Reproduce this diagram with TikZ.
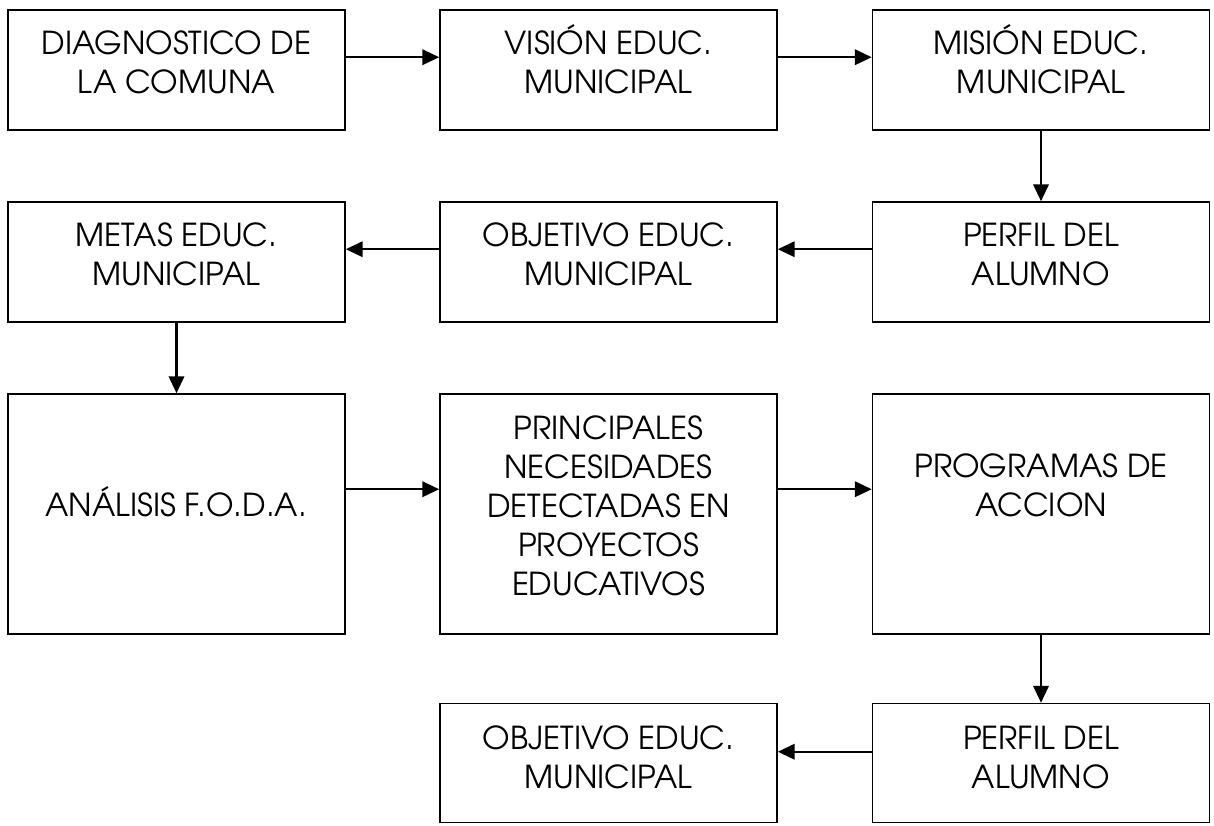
\documentclass[tikz,border=0pt]{standalone}
\usepackage{fontspec}
\setmainfont{texgyreadventor}[Extension=.otf,UprightFont=*-regular,BoldFont=*-bold]
\usetikzlibrary{arrows.meta}
\tikzset{
	caja/.style={draw,line width=1.1pt,minimum width=8.425cm,minimum height=3cm,align=center,
		font=\fontsize{22.5}{27.7}\selectfont,text height=1.55cm,text depth=0.375cm},
	flecha/.style={line width=1.6pt,-{Triangle[length=12pt,width=11pt]}}
}
\begin{document}
\begin{tikzpicture}[x=0.025cm,y=-0.025cm]
	\useasboundingbox (0,0) rectangle (1214,826);
	%Fila 1
	\node[caja,text depth=0.4cm] (diag) at (176.5,70) {DIAGNOSTICO DE\\LA COMUNA};
	\node[caja,text depth=0.4cm] (vision) at (608.5,70) {VISIÓN EDUC.\\MUNICIPAL};
	\node[caja,text depth=0.4cm] (mision) at (1041,70) {MISIÓN EDUC.\\MUNICIPAL};
	%Fila 2
	\node[caja] (metas) at (176.5,262) {METAS EDUC.\\MUNICIPAL};
	\node[caja] (objetivo) at (608.5,262) {OBJETIVO EDUC.\\MUNICIPAL};
	\node[caja] (perfil) at (1041,262) {PERFIL DEL\\ALUMNO};
	%Fila 3
	\node[caja,minimum height=6cm,text height=0.575cm,text depth=0.45cm] (foda) at (176.5,514) {ANÁLISIS F.O.D.A.};
	\node[caja,minimum height=6cm,text height=4.475cm,text depth=0.425cm] (necesidades) at (608.5,514) {PRINCIPALES\\NECESIDADES\\DETECTADAS EN\\PROYECTOS\\EDUCATIVOS};
	\node[caja,minimum height=6cm,text depth=1.45cm] (programas) at (1041,514) {PROGRAMAS DE\\ACCION};
	%Fila 4
	\node[caja,minimum height=2.975cm,text depth=0.275cm] (objetivob) at (608.5,763) {OBJETIVO EDUC.\\MUNICIPAL};
	\node[caja,minimum height=2.975cm,text depth=0.275cm] (perfilb) at (1041,763) {PERFIL DEL\\ALUMNO};
	%Flechas
	\draw[flecha] ([yshift=-1.2cm]diag.north east) -- ([yshift=-1.2cm]vision.north west);
	\draw[flecha] ([yshift=-1.2cm]vision.north east) -- ([yshift=-1.2cm]mision.north west);
	\draw[flecha] (mision.south) -- (perfil.north);
	\draw[flecha] ([yshift=-1.2cm]perfil.north west) -- ([yshift=-1.2cm]objetivo.north east);
	\draw[flecha] ([yshift=-1.2cm]objetivo.north west) -- ([yshift=-1.2cm]metas.north east);
	\draw[flecha] (metas.south) -- (foda.north);
	\draw[flecha] ([yshift=-2.4cm]foda.north east) -- ([yshift=-2.4cm]necesidades.north west);
	\draw[flecha] ([yshift=-2.4cm]necesidades.north east) -- ([yshift=-2.4cm]programas.north west);
	\draw[flecha] (programas.south) -- (perfilb.north);
	\draw[flecha] ([yshift=-1.225cm]perfilb.north west) -- ([yshift=-1.225cm]objetivob.north east);
\end{tikzpicture}
\end{document}
